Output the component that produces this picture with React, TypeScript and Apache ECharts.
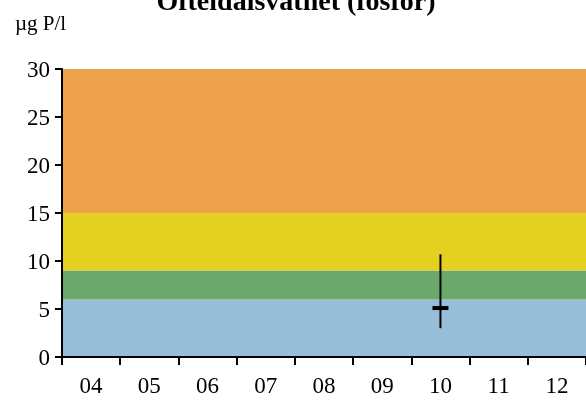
import React, { useEffect, useRef } from "react";
import * as echarts from "echarts";

const years = ["04", "05", "06", "07", "08", "09", "10", "11", "12"];
const bandLimits = [0, 6, 9, 15, 30];
const bandColors = ["#96bed8", "#6aa96b", "#e4d021", "#eda14c"];
// observation: year label, min, max, mean
const obsYear = ["10"];
const obsMin = [3.0];
const obsMax = [10.7];
const obsMean = [5.1];
const yTicks = { min: 0, max: 30, interval: 5 };
const titleText = "Ofteldalsvatnet (fosfor)";
const unitText = "µg P/l";

export default function App() {
  const ref = useRef<HTMLDivElement>(null);
  useEffect(() => {
    document.body.style.margin = "0";
    const chart = echarts.init(ref.current!, null, { renderer: "svg" });
    const font = "'Liberation Serif', 'Times New Roman', serif";
    const bands = bandColors.map((c, i) => [
      { yAxis: bandLimits[i], itemStyle: { color: c, opacity: 1 } },
      { yAxis: bandLimits[i + 1] },
    ]);
    const obsData = obsYear.map((y, i) => [years.indexOf(y), obsMin[i], obsMax[i], obsMean[i]]);
    chart.setOption({
      animation: false,
      grid: { left: 62, right: -6, top: 69, bottom: 47, containLabel: false },
      graphic: [
        {
          type: "text",
          x: 296,
          y: 0,
          style: {
            text: titleText,
            font: `bold 28px ${font}`,
            fill: "#000",
            textAlign: "center",
            textVerticalAlign: "middle",
          },
        },
        {
          type: "text",
          x: 15,
          y: 23,
          style: {
            text: unitText,
            font: `21px ${font}`,
            fill: "#000",
            textAlign: "left",
            textVerticalAlign: "middle",
          },
        },
      ],
      xAxis: {
        type: "category",
        data: years,
        boundaryGap: true,
        axisLine: { lineStyle: { color: "#000", width: 2 } },
        axisTick: { show: true, length: 8, inside: false, lineStyle: { color: "#000", width: 2 } },
        axisLabel: { color: "#000", fontFamily: font, fontSize: 23, margin: 17 },
        splitLine: { show: false },
        z: 10,
      },
      yAxis: {
        type: "value",
        min: yTicks.min,
        max: yTicks.max,
        interval: yTicks.interval,
        axisLine: { show: true, lineStyle: { color: "#000", width: 2 } },
        axisTick: { show: true, length: 7, lineStyle: { color: "#000", width: 2 } },
        axisLabel: { color: "#000", fontFamily: font, fontSize: 23, margin: 12 },
        splitLine: { show: false },
        z: 10,
      },
      series: [
        {
          type: "line",
          data: [],
          silent: true,
          z: 1,
          markArea: { silent: true, data: bands },
        },
        {
          type: "custom",
          z: 5,
          data: obsData,
          encode: { x: 0, y: [1, 2, 3] },
          renderItem: (params: any, api: any) => {
            const x = api.value(0);
            const top = api.coord([x, api.value(2)]);
            const bot = api.coord([x, api.value(1)]);
            const mid = api.coord([x, api.value(3)]);
            return {
              type: "group",
              children: [
                {
                  type: "line",
                  shape: { x1: top[0], y1: top[1], x2: bot[0], y2: bot[1] },
                  style: { stroke: "#000", lineWidth: 2 },
                },
                {
                  type: "rect",
                  shape: { x: mid[0] - 8, y: mid[1] - 2, width: 16, height: 4 },
                  style: { fill: "#000" },
                },
              ],
            };
          },
        },
      ],
    });
    return () => chart.dispose();
  }, []);
  return <div ref={ref} style={{ position: "fixed", left: 0, top: 0, width: 586, height: 404 }} />;
}
